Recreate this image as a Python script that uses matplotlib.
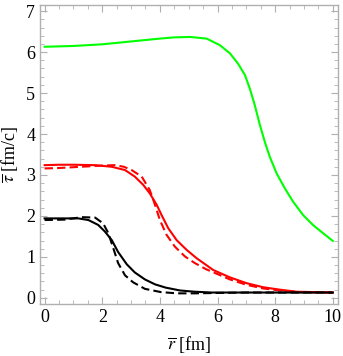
import numpy as np
import matplotlib
matplotlib.use("Agg")
import matplotlib.pyplot as plt
from matplotlib.ticker import MultipleLocator

# data
green_r = [0, 1.0, 2.0, 3.0, 4.0, 4.5, 5.04, 5.62, 6.08, 6.43, 6.71, 6.95, 7.12, 7.29,
           7.47, 7.64, 7.81, 8.05, 8.33, 8.62, 8.97, 9.31, 9.66, 10.0]
green_t = [6.13, 6.15, 6.19, 6.26, 6.33, 6.36, 6.37, 6.33, 6.17, 5.97, 5.72, 5.44, 5.11, 4.71,
           4.22, 3.81, 3.45, 3.04, 2.68, 2.35, 2.02, 1.78, 1.58, 1.39]

red_r = [0, 0.5, 1.0, 1.75, 2.33, 2.79, 3.13, 3.42, 3.65, 3.89, 4.06, 4.29, 4.58, 4.93,
         5.27, 5.85, 6.43, 7.0, 7.58, 8.16, 8.74, 9.4, 10.0]
red_t = [3.24, 3.25, 3.25, 3.24, 3.20, 3.12, 2.96, 2.76, 2.55, 2.27, 2.02, 1.70, 1.41, 1.17,
         0.97, 0.68, 0.50, 0.36, 0.26, 0.20, 0.15, 0.14, 0.13]

redd_r = [0, 0.5, 1.0, 1.5, 2.0, 2.44, 2.75, 3.02, 3.37, 3.65, 3.83, 4.0, 4.23, 4.52, 4.87,
          5.21, 5.6, 6.0, 6.43, 7.0, 7.58, 8.16, 8.85, 10.0]
redd_t = [3.16, 3.17, 3.19, 3.21, 3.23, 3.24, 3.20, 3.12, 2.96, 2.63, 2.27, 1.90, 1.54, 1.25, 1.01,
          0.85, 0.70, 0.58, 0.45, 0.32, 0.23, 0.18, 0.14, 0.13]

blk_r = [0, 0.6, 1.17, 1.52, 1.86, 2.09, 2.33, 2.55, 2.85, 3.13, 3.48, 3.83, 4.2, 4.7, 5.2,
         5.8, 7.0, 8.5, 10.0]
blk_t = [1.94, 1.94, 1.94, 1.90, 1.78, 1.62, 1.41, 1.12, 0.82, 0.62, 0.45, 0.33, 0.25, 0.18, 0.15,
         0.13, 0.13, 0.13, 0.13]

blkd_r = [0, 0.69, 1.29, 1.75, 2.03, 2.21, 2.38, 2.55, 2.79, 3.07, 3.48, 4.04, 4.6, 5.2,
          6.0, 7.0, 8.5, 10.0]
blkd_t = [1.90, 1.91, 1.97, 1.96, 1.82, 1.58, 1.22, 0.85, 0.55, 0.38, 0.22, 0.14, 0.11, 0.11,
          0.12, 0.13, 0.13, 0.13]

plt.rcParams['font.family'] = ['Liberation Serif', 'DejaVu Serif']
plt.rcParams['mathtext.fontset'] = 'stix'

fig = plt.figure(figsize=(3.43, 3.56), dpi=100)
ax = fig.add_axes([40/343, 52/356, 298/343, 299/356])

lw = 1.5
ax.plot(green_r, green_t, color='#00ff00', lw=lw)
ax.plot(red_r, red_t, color='#ff0000', lw=lw)
ax.plot(redd_r, redd_t, color='#ff0000', lw=lw, ls=(0, (4, 2)))
ax.plot(blk_r, blk_t, color='black', lw=lw)
ax.plot(blkd_r, blkd_t, color='black', lw=lw, ls=(0, (4, 2)))

ax.set_xlim(-0.16, 10.18)
ax.set_ylim(-0.15, 7.15)
ax.xaxis.set_major_locator(MultipleLocator(2))
ax.xaxis.set_minor_locator(MultipleLocator(0.5))
ax.yaxis.set_major_locator(MultipleLocator(1))
ax.yaxis.set_minor_locator(MultipleLocator(0.2))

gray = '#b0b0b0'
for s in ax.spines.values():
    s.set_color(gray)
    s.set_linewidth(1.0)
ax.tick_params(which='both', direction='in', top=True, right=True, color=gray,
               labelsize=13, labelcolor='black')
ax.tick_params(which='major', length=5, width=0.8)
ax.tick_params(which='minor', length=3, width=0.6)

ax.set_xlabel(r'$\overline{r}$ [fm]', fontsize=13, labelpad=6)
ax.set_ylabel(r'$\overline{\tau}$ [fm/c]', fontsize=13, labelpad=4)

fig.savefig('out.png', dpi=100)
